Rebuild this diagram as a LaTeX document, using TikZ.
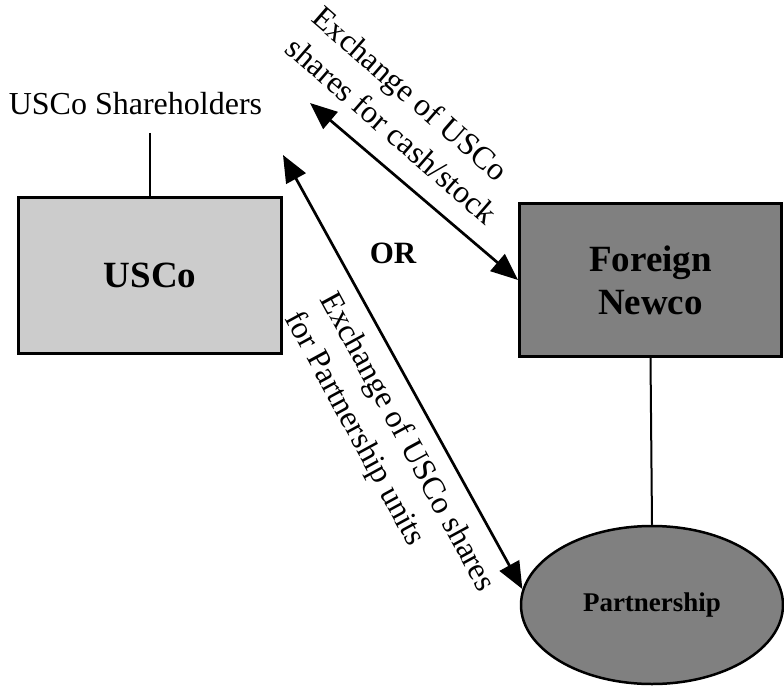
\documentclass[tikz,border=0pt]{standalone}
\usepackage{fontspec}
\setmainfont{Liberation Serif}
\usetikzlibrary{arrows.meta,shapes.geometric}
\definecolor{lightbox}{HTML}{CCCCCC}
\definecolor{darkbox}{HTML}{808080}
\begin{document}
\begin{tikzpicture}[x=1pt,y=-1pt,
  entity/.style={draw,line width=3pt,inner sep=0pt,align=center,
    font=\fontsize{37}{43}\selectfont\bfseries},
  link/.style={line width=2pt},
  exch/.style={line width=2.7pt,
    {Triangle[length=27pt,width=22pt]}-{Triangle[length=27pt,width=22pt]}},
  lbl/.style={align=left,inner sep=0pt,font=\fontsize{32}{40}\selectfont}]
\useasboundingbox (0,0) rectangle (784,687);
\node[entity,fill=lightbox,minimum width=263pt,minimum height=156pt] (usco) at (150,275.5) {USCo};
\node[entity,fill=darkbox,minimum width=262pt,minimum height=153pt] (fn) at (650.5,280) {Foreign\\Newco};
\node[draw,ellipse,line width=2.5pt,fill=darkbox,inner sep=0pt,minimum width=262pt,minimum height=158pt,
  font=\fontsize{27}{32}\selectfont\bfseries] (pt) at (652,605) {Partnership};
\node[anchor=base,inner sep=0pt,font=\fontsize{32}{40}\selectfont] (sh) at (135.5,115) {USCo Shareholders};
\coordinate (shl) at (150,133);
\draw[link] (shl) -- (usco.north);
\draw[link] (fn.south) -- (pt.north);
\coordinate (c1) at (310,103);
\coordinate (c2) at (283,155);
\draw[exch] (c1) -- (fn.west);
\draw[exch] (c2) -- (pt.173);
\node[lbl,rotate=-41] (l1) at (405,115) {Exchange of USCo\\shares for cash/stock};
\node[lbl,rotate=-61.5] (l2) at (389,452) {Exchange of USCo shares\\for Partnership units};
\node[font=\fontsize{31}{36}\selectfont\bfseries] (or) at (393,253) {OR};
\end{tikzpicture}
\end{document}
